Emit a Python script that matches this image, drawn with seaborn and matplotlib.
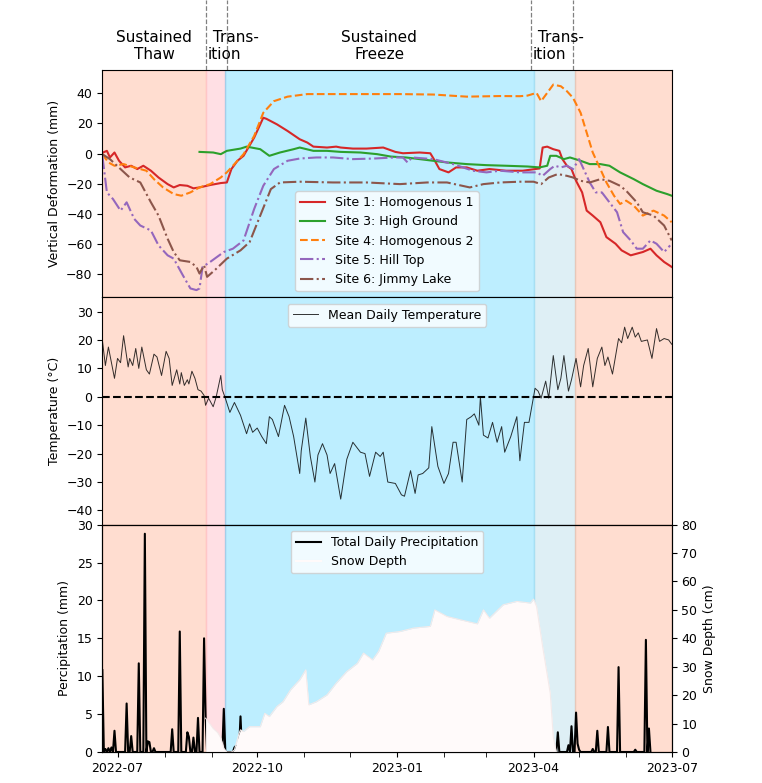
import pandas as pd
import numpy as np
import matplotlib
matplotlib.use('Agg')
import matplotlib.pyplot as plt
import matplotlib.dates as mdates
import matplotlib.transforms as mtransforms
from matplotlib.lines import Line2D
import seaborn as sns

plt.rcParams['font.size'] = 9

# all series are given as day offsets from this date
BASE = pd.Timestamp("2022-07-01")

# freeze / thaw phases (edges and shading)
phase_edges = ["2022-06-21", "2022-08-28", "2022-09-10", "2023-04-01", "2023-04-28", "2023-07-01"]
phase_colors = ["lightsalmon", "pink", "deepskyblue", "lightblue", "lightsalmon"]
phase_alpha = [0.35, 0.5, 0.26, 0.4, 0.35]
header_dividers = ["2022-08-28", "2022-09-11", "2023-03-30", "2023-04-27"]

# vertical deformation (mm)
site1_days = [-10, -7, -5, -2, 1, 5, 9, 13, 17, 22, 27, 33, 37, 41, 46, 50, 54, 61, 68, 72,
              75, 79, 83, 90, 96, 98, 105, 112, 120, 125, 129, 138, 144, 147, 155, 164, 175, 183, 188, 199,
              206, 209, 212, 218, 223, 230, 237, 245, 256, 267, 278, 280, 283, 287, 291, 293, 296, 299, 302, 306,
              309, 313, 318, 322, 328, 332, 338, 342, 346, 351, 355, 360, 365]
site1_mm = [0.5, 1.8, -2.6, 0.7, -4.8, -9.2, -8.1, -10.3, -8.1, -11.4, -15.9, -20.3, -22.5, -20.9, -21.4, -23.1, -22.5, -20.9, -19.6, -19.2,
            -10.3, -4.8, -1.5, 10.6, 23.8, 23.1, 19.4, 15, 9.5, 7.3, 4.6, 4, 4.6, 4, 3.3, 3.3, 4, 1.1, 0.2, 0.7,
            0.2, -4.8, -10.3, -12.5, -9.2, -9.2, -11.4, -10.3, -11.4, -11.4, -9.9, 4, 4.6, 2.9, 1.8, -3.7, -8.1, -10.3, -18.1, -25.8,
            -37.9, -41.2, -45.6, -55.5, -59.9, -64.3, -67.6, -66.5, -65.4, -63.2, -67.6, -72, -75.3]

site3_days = [54, 63, 68, 72, 81, 85, 94, 100, 107, 116, 120, 129, 138, 147, 160, 171, 180, 190, 199, 208,
              217, 230, 243, 256, 270, 278, 283, 285, 289, 294, 298, 305, 311, 318, 324, 331, 340, 346, 355, 362, 365]
site3_mm = [1.1, 0.7, -0.4, 1.8, 3.3, 4.6, 2.9, -1.5, 0.7, 2.9, 4, 1.8, 1.8, 1.1, 0.7, -0.4, -2, -2.6, -3.7, -4.8,
            -5.9, -7, -7.7, -8.1, -8.6, -9.2, -8.1, -1.5, -1.5, -3.7, -2.6, -4.8, -7, -7, -8.1, -12.5, -17, -20.3, -24.7, -26.9, -28]

site4_days = [-10, -6, -2, 4, 11, 19, 24, 30, 37, 42, 48, 54, 61, 68, 72, 76, 83, 90, 96, 103,
              112, 125, 142, 164, 186, 208, 230, 252, 265, 270, 276, 279, 283, 287, 292, 296, 300, 305, 309, 313,
              318, 322, 327, 331, 335, 340, 346, 353, 360, 365]
site4_mm = [-0.4, -5.9, -8.1, -7, -9.2, -11.4, -17, -22.5, -26.9, -28, -25.8, -22.5, -20.3, -15.9, -12.5, -8.1, -0.4, 11.7, 27.1, 34.8,
            37.8, 39.5, 39.5, 39.5, 39.5, 39.2, 37.8, 38.2, 38.1, 38.5, 40.3, 34.8, 40.3, 45.8, 44.7, 41.4, 37, 27.1, 13.9, 0.7,
            -10.3, -19.2, -28, -33.5, -31.3, -34.6, -41.2, -37.9, -41.2, -45.6]

site5_days = [-10, -7, -3, 2, 6, 11, 15, 22, 27, 33, 37, 43, 48, 52, 54, 56, 61, 70, 76, 83,
              90, 96, 103, 112, 120, 131, 142, 155, 169, 182, 188, 191, 194, 208, 221, 234, 243, 252, 265, 276,
              280, 285, 288, 292, 296, 300, 304, 307, 311, 315, 319, 324, 329, 333, 338, 342, 346, 351, 355, 360, 364]
site5_mm = [-1.5, -25.8, -30.2, -37.9, -32.4, -43.4, -47.8, -51.1, -61, -67.6, -69.8, -80.8, -89.6, -90.7, -89.6, -75.3, -72, -65.4, -63.2, -57.7,
            -36.8, -21.4, -10.3, -4.8, -3.3, -2.6, -2.6, -3.7, -3.3, -2.6, -2.6, -5.9, -2.6, -3.7, -7, -11.4, -12.5, -11.4, -12.5, -12.5,
            -14.8, -10.3, -8.1, -9.2, -8.1, -10.3, -3.7, -10.3, -19.2, -25.8, -25.8, -32.4, -39, -52.2, -57.7, -63.2, -63.2, -57.7, -59.9, -65.4, -61]

site6_days = [-10, -5, 2, 8, 15, 22, 27, 33, 37, 41, 48, 52, 54, 57, 59, 64, 72, 81, 87, 94,
              101, 107, 120, 142, 164, 186, 204, 217, 232, 241, 252, 265, 274, 279, 284, 290, 296, 300, 305, 311,
              318, 324, 331, 335, 342, 346, 353, 360, 365]
site6_mm = [-0.4, -3.7, -10.3, -15.9, -19.2, -32.4, -41.2, -56.6, -65.4, -70.9, -72, -75.3, -79.7, -74.2, -81.9, -77.5, -69.8, -64.3, -58.8, -41.2,
            -23.6, -19.2, -18.7, -19.2, -19.2, -20.3, -19.2, -19.2, -22.5, -20.3, -19.2, -18.7, -18.7, -20.3, -15.9, -13.6, -14.8, -15.9, -18.1, -19.2,
            -17, -18.1, -21.4, -24.7, -32.4, -39, -41.2, -47.8, -57.7]

sites = [
    ("Site 1: Homogenous 1", site1_days, site1_mm, "tab:red", "-"),
    ("Site 3: High Ground", site3_days, site3_mm, "tab:green", "-"),
    ("Site 4: Homogenous 2", site4_days, site4_mm, "tab:orange", "--"),
    ("Site 5: Hill Top", site5_days, site5_mm, "tab:purple", "-."),
    ("Site 6: Jimmy Lake", site6_days, site6_mm, "tab:brown", "-."),
]

# mean daily temperature (deg C)
temp_days = [-10, -8, -6, -2, 0, 2, 4, 7, 8, 10, 12, 14, 16, 19, 21, 24, 26, 29, 32, 34,
             36, 39, 41, 42, 44, 46, 47, 49, 51, 53, 55, 57, 58, 60, 62, 63, 65, 68, 69, 71,
             74, 77, 81, 85, 87, 89, 92, 95, 98, 100, 102, 106, 110, 113, 116, 120, 121, 124, 127, 130,
             132, 135, 138, 140, 143, 147, 151, 155, 160, 163, 166, 170, 173, 175, 178, 183, 187, 189, 193, 196,
             198, 201, 205, 207, 211, 215, 218, 221, 223, 227, 230, 233, 235, 238, 239, 241, 244, 247, 250, 253,
             255, 259, 263, 265, 268, 271, 275, 277, 279, 282, 284, 287, 290, 292, 294, 297, 299, 302, 305, 307,
             310, 313, 316, 319, 321, 323, 326, 330, 332, 334, 336, 339, 341, 343, 345, 349, 352, 355, 357, 360,
             363, 365]
temp_c = [20, 11, 17.5, 6.5, 13.5, 12, 21.5, 10.5, 13.5, 11, 17, 10, 17.5, 9.5, 8, 15, 14, 7.5, 16, 13.5,
          4, 9.5, 4.5, 8.5, 4, 6, 4.5, 9, 6.5, 2.5, 2, 0.5, -3, -0.5, -2.5, -3.5, 0, 7.5, 2.5, -0.5,
          -5.5, -2, -6.5, -13, -9.5, -12.5, -11, -14, -16.5, -7, -8, -14, -3, -7, -14, -27, -19, -7.5, -21, -30,
          -20.5, -16.5, -20.5, -27, -23.5, -36, -22, -16, -19.5, -20, -28, -19.5, -21, -19.5, -30, -30.5, -34.5, -35, -26, -34,
          -27.5, -27, -25, -10.5, -24.5, -30.5, -27, -16, -16, -30, -8, -7, -6, -10, 0, -13.5, -14.5, -9, -16, -10.5,
          -19.5, -14, -7, -22.5, -9, -9, 3, 2, -0.5, 5.5, -0.5, 14.5, 2.5, 6.5, 14.5, 2, 6, 13.5, 3.5, 11,
          17, 3.5, 13.5, 17.5, 11, 14, 8, 20.5, 19, 24.5, 20.5, 24.5, 21, 22.5, 19.5, 20, 13.5, 24, 19.5, 20.5,
          20, 18.5]

# total daily precipitation (mm), only the non-zero days, record ends at day 351
precip_days = [-10, -8, -6, -4, -2, 6, 9, 14, 18, 20, 21, 24, 36, 41, 46, 47, 50, 53, 57, 58,
               67, 68, 70, 77, 78, 81, 290, 297, 299, 302, 303, 304, 313, 316, 323, 330, 341, 348, 350]
precip_mm = [10.8, 0.4, 0.5, 0.6, 2.8, 6.4, 2.1, 11.7, 28.8, 1.4, 1.3, 0.5, 3.0, 15.9, 2.6, 2.0, 1.9, 4.5, 15.0, 4.7,
             0.4, 0.9, 5.7, 0.6, 0.8, 4.7, 2.6, 0.9, 3.4, 5.2, 1.1, 0.3, 0.4, 2.8, 3.3, 11.2, 0.3, 14.8, 3.1]
precip_first, precip_last = -10, 351

# snow depth (cm)
snow_days = [58, 60, 63, 66, 68, 70, 72, 75, 77, 80, 81, 83, 87, 94, 97, 100, 105, 109, 114, 120,
             124, 126, 131, 138, 144, 151, 158, 162, 168, 172, 177, 186, 195, 206, 209, 217, 226, 237, 241, 245,
             254, 263, 272, 274, 276, 280, 285, 287, 289]
snow_cm = [11.9, 10.5, 8.3, 6.8, 5.0, 1.3, 0, 0, 0.7, 6.5, 7.8, 7.2, 8.9, 8.9, 13.6, 12.5, 16, 17.7, 21.9, 25.4,
           28.9, 16.6, 17.7, 20.1, 24.2, 28.3, 31.2, 34.8, 32.4, 35.4, 41.8, 42.4, 43.6, 44.2, 50, 47.7, 46.5, 45.1, 50, 47.1,
           51.8, 53, 52.4, 53.8, 51.2, 37.1, 20.7, 5.4, 0]


def to_dates(days):
    return BASE + pd.to_timedelta(np.asarray(days), unit="D")


fig = plt.figure(figsize=(7.62, 7.83), dpi=100)
gs = fig.add_gridspec(3, 1, left=0.1343, right=0.8815, top=0.9106, bottom=0.0396, hspace=0)
ax_def = fig.add_subplot(gs[0])
ax_tmp = fig.add_subplot(gs[1], sharex=ax_def)
ax_pcp = fig.add_subplot(gs[2], sharex=ax_def)

edges = pd.to_datetime(phase_edges)
for ax in (ax_def, ax_tmp, ax_pcp):
    for i in range(len(phase_colors)):
        ax.axvspan(edges[i], edges[i + 1], color=phase_colors[i], alpha=phase_alpha[i], zorder=0)

# 1. deformation
for label, days, vals, col, ls in sites:
    sns.lineplot(x=to_dates(days), y=vals, ax=ax_def, color=col, linestyle=ls, lw=1.5,
                 label=label, estimator=None)
ax_def.set_ylim(-95.5, 55.5)
ax_def.set_yticks(np.arange(-80, 41, 20))
ax_def.set_ylabel("Vertical Deformation (mm)")
ax_def.legend(loc="lower center")

# 2. temperature
sns.lineplot(x=to_dates(temp_days), y=temp_c, ax=ax_tmp, color="black", lw=0.7, alpha=0.8,
             label="Mean Daily Temperature", estimator=None)
ax_tmp.axhline(0, color="black", ls="--", lw=1.5)
ax_tmp.set_ylim(-45, 35)
ax_tmp.set_yticks(np.arange(-40, 31, 10))
ax_tmp.set_ylabel("Temperature (°C)")
ax_tmp.legend(loc="upper center")

# 3. precipitation + snow depth
precip = pd.Series(0.0, index=np.arange(precip_first, precip_last + 1))
precip.loc[precip_days] = precip_mm
sns.lineplot(x=to_dates(precip.index), y=precip.values, ax=ax_pcp, color="black", lw=1.5, estimator=None)
ax_pcp.set_ylim(0, 30)
ax_pcp.set_yticks(np.arange(0, 31, 5))
ax_pcp.set_ylabel("Percipitation (mm)")

ax_snow = ax_pcp.twinx()
ax_snow.fill_between(to_dates(snow_days), snow_cm, color="snow", lw=0)
sns.lineplot(x=to_dates(snow_days), y=snow_cm, ax=ax_snow, color="#f3eaea", lw=0.8, estimator=None)
ax_snow.set_ylim(0, 80)
ax_snow.set_yticks(np.arange(0, 81, 10))
ax_snow.set_ylabel("Snow Depth (cm)")
handles = [Line2D([], [], color="black", lw=1.5), Line2D([], [], color="snow", lw=1.5)]
ax_snow.legend(handles, ["Total Daily Precipitation", "Snow Depth"], loc="upper center")

ax_pcp.set_xlim(edges[0], edges[-1])
ax_pcp.xaxis.set_major_locator(mdates.MonthLocator(bymonth=[1, 4, 7, 10]))
ax_pcp.xaxis.set_major_formatter(mdates.DateFormatter("%Y-%m"))
ax_pcp.xaxis.set_minor_locator(mdates.MonthLocator())
ax_pcp.tick_params(axis="x", which="minor", length=3.5)
for ax in (ax_def, ax_tmp):
    ax.tick_params(axis="x", which="both", bottom=False, labelbottom=False)
for ax in (ax_def, ax_tmp, ax_pcp, ax_snow):
    ax.set_xlabel("")

# phase headers above the top panel
trans = mtransforms.blended_transform_factory(ax_def.transData, ax_def.transAxes)
for d in header_dividers:
    x = mdates.date2num(pd.Timestamp(d))
    ax_def.add_artist(Line2D([x, x], [1.0, 1.31], transform=trans, clip_on=False,
                             color="gray", ls="--", lw=0.9))
mid = lambda a, b: mdates.date2num(edges[a] + (edges[b] - edges[a]) / 2)
ax_def.text(mid(0, 1), 1.035, "Sustained\nThaw", transform=trans, ha="center", va="bottom", fontsize=11)
ax_def.text(mid(2, 3), 1.035, "Sustained\nFreeze", transform=trans, ha="center", va="bottom", fontsize=11)
trans_shift = mtransforms.offset_copy(trans, fig=fig, x=2, y=0, units="dots")
for d in (header_dividers[0], header_dividers[2]):
    ax_def.text(mdates.date2num(pd.Timestamp(d)), 1.035, " Trans-\nition", transform=trans_shift,
                ha="left", va="bottom", fontsize=11)

fig.savefig("out.png", dpi=100)
plt.close(fig)
